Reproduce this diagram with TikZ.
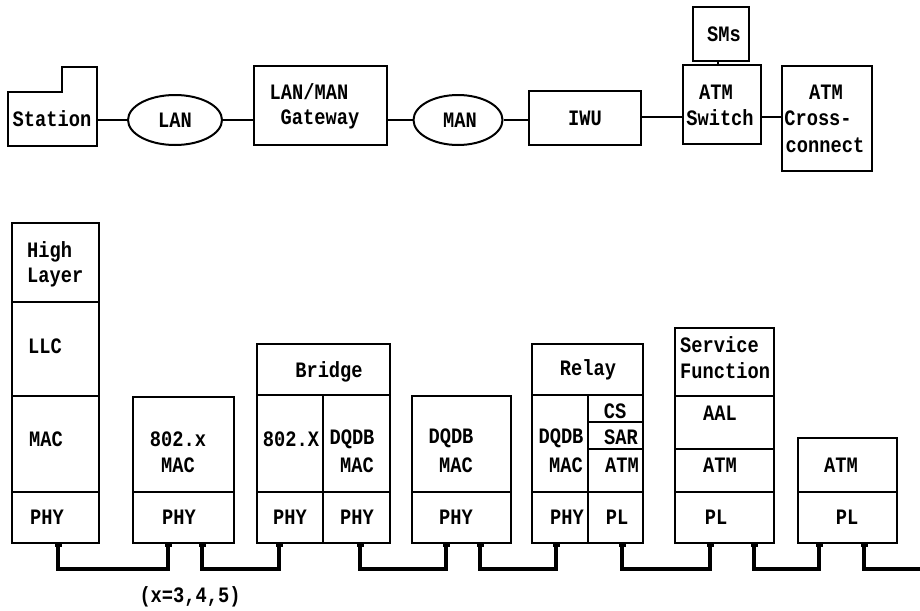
\documentclass[tikz,border=0pt]{standalone}
\usepackage{fontspec}
\setmainfont[FakeStretch=0.85]{Liberation Mono}
\usetikzlibrary{shapes.geometric,calc}
\tikzset{
  box/.style={draw, line width=2pt, rectangle, inner sep=0pt},
  oval/.style={draw, line width=2pt, ellipse, minimum width=94pt, minimum height=50pt, inner sep=0pt},
  cellbox/.style={draw, line width=2pt, rectangle, inner sep=0pt},
  lbl/.style={inner sep=0pt, font=\fontsize{22}{24}\selectfont\bfseries},
  link/.style={line width=2pt},
  bus/.style={line width=3.5pt, line join=miter},
}
\newcommand\cellat[5]{\node[cellbox, minimum width={(#4-#2)*1pt}, minimum height={(#5-#3)*1pt}] (#1) at ({(#2+#4)/2},{(#3+#5)/2}) {};}
\begin{document}
\begin{tikzpicture}[x=1pt,y=-1pt]
\useasboundingbox (0,0) rectangle (920,610);
% ---------------- top row ----------------
\draw[line width=2pt] (8,92) -- (62,92) -- (62,67) -- (97,67) -- (97,146) -- (8,146) -- cycle;
\node[lbl] (station) at (52,119) {Station};
\coordinate (stE) at (97,120);
\node[oval] (lan) at (175,120) {};
\node[lbl] (lanT) at (175,120) {LAN};
\cellat{gw}{254}{66}{387}{145}
\node[lbl] (gw1) at (309,92) {LAN/MAN};
\node[lbl] (gw2) at (320,119) {Gateway};
\node[oval, minimum width=89pt] (man) at (458,120) {};
\node[lbl] (manT) at (460,120) {MAN};
\cellat{iwu}{529}{91}{641}{145}
\node[lbl] (iwuT) at (585,118) {IWU};
\cellat{sw}{683}{65}{761}{144}
\node[lbl] (sw1) at (716,92) {ATM};
\node[lbl] (sw2) at (720,118) {Switch};
\cellat{sms}{693}{7}{749}{61}
\node[lbl] (smsT) at (724,34) {SMs};
\cellat{cc}{782}{66}{872}{171}
\node[lbl] (cc1) at (826,92) {ATM};
\node[lbl] (cc2) at (818,118) {Cross-};
\node[lbl] (cc3) at (825,145) {connect};
\draw[link] (stE) -- (lan.west);
\draw[link] (lan.east) -- (lan.east -| gw.west);
\draw[link] (gw.east |- man.west) -- (man.west);
\draw[link] (man.east) -- (man.east -| iwu.west);
\coordinate (iwuE) at (641,117);
\draw[link] (iwuE) -- (iwuE -| sw.west);
\draw[link] (sw.east |- iwuE) -- (cc.west |- iwuE);
\draw[link] (718,61) coordinate (smsB) -- (smsB |- sw.north);
% ---------------- stacks ----------------
% stack 1
\cellat{hl}{12}{223}{99}{302}
\cellat{llc}{12}{302}{99}{396}
\cellat{mac1}{12}{396}{99}{492}
\cellat{phy1}{12}{492}{99}{543}
\node[lbl, anchor=west] (t1a) at (27,252) {High};
\node[lbl, anchor=west] (t1b) at (27,278) {Layer};
\node[lbl, anchor=west] (t1c) at (28,346) {LLC};
\node[lbl, anchor=west] (t1d) at (29,439) {MAC};
\node[lbl, anchor=west] (t1e) at (30,517) {PHY};
% stack 2
\cellat{mac2}{133}{397}{234}{492}
\cellat{phy2}{133}{492}{234}{543}
\node[lbl] (t2a) at (178,439) {802.x};
\node[lbl] (t2b) at (178,465) {MAC};
\node[lbl] (t2c) at (179,517) {PHY};
% stack 3
\cellat{br}{257}{344}{390}{395}
\cellat{x3}{257}{395}{323}{492}
\cellat{dq3}{323}{395}{390}{492}
\cellat{phy3a}{257}{492}{323}{543}
\cellat{phy3b}{323}{492}{390}{543}
\node[lbl] (t3a) at (329,372) {Bridge};
\node[lbl] (t3b) at (291,439) {802.X};
\node[lbl] (t3c) at (352,439) {DQDB};
\node[lbl] (t3d) at (357,465) {MAC};
\node[lbl] (t3e) at (290,517) {PHY};
\node[lbl] (t3f) at (357,517) {PHY};
% stack 4
\cellat{mac4}{412}{396}{511}{492}
\cellat{phy4}{412}{492}{511}{543}
\node[lbl] (t4a) at (451,438) {DQDB};
\node[lbl] (t4b) at (456,465) {MAC};
\node[lbl] (t4c) at (456,517) {PHY};
% stack 5
\cellat{rel}{532}{344}{643}{395}
\cellat{dq5}{532}{395}{588}{492}
\cellat{cs}{588}{395}{643}{422}
\cellat{sar}{588}{422}{643}{449}
\cellat{atm5}{588}{449}{643}{492}
\cellat{phy5}{532}{492}{588}{543}
\cellat{pl5}{588}{492}{643}{543}
\node[lbl] (t5a) at (588,370) {Relay};
\node[lbl] (t5b) at (561,438) {DQDB};
\node[lbl] (t5c) at (566,465) {MAC};
\node[lbl] (t5d) at (615,411) {CS};
\node[lbl] (t5e) at (621,437) {SAR};
\node[lbl] (t5f) at (622,465) {ATM};
\node[lbl] (t5g) at (567,517) {PHY};
\node[lbl] (t5h) at (617,517) {PL};
% stack 6
\cellat{sf}{675}{328}{774}{396}
\cellat{aal}{675}{396}{774}{449}
\cellat{atm6}{675}{449}{774}{492}
\cellat{pl6}{675}{492}{774}{543}
\node[lbl, anchor=west] (t6a) at (680,345) {Service};
\node[lbl, anchor=west] (t6b) at (680,371) {Function};
\node[lbl] (t6c) at (720,413) {AAL};
\node[lbl] (t6d) at (720,465) {ATM};
\node[lbl] (t6e) at (716,517) {PL};
% stack 7
\cellat{atm7}{798}{438}{897}{492}
\cellat{pl7}{798}{492}{897}{543}
\node[lbl] (t7a) at (841,465) {ATM};
\node[lbl] (t7b) at (847,517) {PL};
% ---------------- bus ----------------
\foreach \n/\x in {k1/58,k2/168,k3/202,k4/279,k5/360,k6/446,k7/480,k8/556,k9/622,k10/710,k11/754,k12/819,k13/864}{
  \coordinate (\n) at (\x,544);
  \fill (\x-3.5,543) rectangle (\x+3.5,547);
}
\coordinate (kend) at (920,569);
\draw[bus] (k1) -- ++(0,25) -| (k2);
\draw[bus] (k3) -- ++(0,25) -| (k4);
\draw[bus] (k5) -- ++(0,25) -| (k6);
\draw[bus] (k7) -- ++(0,25) -| (k8);
\draw[bus] (k9) -- ++(0,25) -| (k10);
\draw[bus] (k11) -- ++(0,25) -| (k12);
\draw[bus] (k13) |- (kend);
\node[lbl] (xnote) at (190,597) {(x=3,4,5)};
\end{tikzpicture}
\end{document}
